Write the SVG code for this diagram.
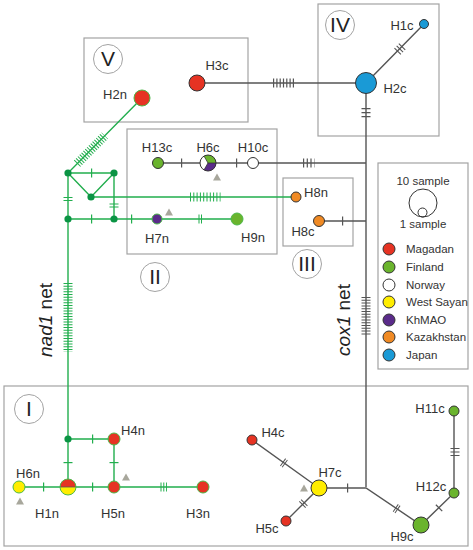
<svg xmlns="http://www.w3.org/2000/svg" width="473" height="550" viewBox="0 0 473 550">
<style>
.box{fill:none;stroke:#a3a3a3;stroke-width:1.2}
.rc{fill:#fff;stroke:#a3a3a3;stroke-width:1}
.rn{font-family:"Liberation Sans",Arial,sans-serif;font-size:21px;fill:#222;text-anchor:middle}
.lb{font-family:"Liberation Sans",Arial,sans-serif;font-size:13px;fill:#333;text-anchor:middle}
.lg{font-family:"Liberation Sans",Arial,sans-serif;font-size:11.5px;fill:#333}
.net{font-family:"Liberation Sans",Arial,sans-serif;font-size:19px;fill:#222;text-anchor:middle}
.cl{fill:none;stroke:#555;stroke-width:1.4}
.gl{fill:none;stroke:#22ae4e;stroke-width:1.4}
.ct{fill:none;stroke:#555;stroke-width:9}
.gt{fill:none;stroke:#22ae4e;stroke-width:9}
.cn{stroke:#333;stroke-width:1}
.gn{stroke:#4cb848;stroke-width:1}
.jn{fill:#0b9444}
.tri{fill:#a8a79c}
.red{fill:#e63323}.grn{fill:#6ab42d}.wht{fill:#fff}.yel{fill:#ffed00}.pur{fill:#5a2b8a}.org{fill:#f08a24}.blu{fill:#1a9ad6}
</style>
<!-- boxes -->
<rect class="box" x="84" y="38" width="164" height="84"/>
<rect class="box" x="318" y="4" width="121" height="132"/>
<rect class="box" x="127" y="129" width="150" height="125"/>
<rect class="box" x="283" y="178" width="70" height="68"/>
<rect class="box" x="4" y="386" width="464" height="160"/>
<rect class="box" x="378" y="163" width="90" height="206"/>
<!-- roman numerals -->
<g id="rI"><circle class="rc" cx="29" cy="409" r="14.5"/><text class="rn" x="29" y="416">I</text></g>
<g id="rII"><circle class="rc" cx="155" cy="277" r="14.5"/><text class="rn" x="155" y="284">II</text></g>
<g id="rIII"><circle class="rc" cx="307" cy="264" r="14.5"/><text class="rn" x="307" y="271">III</text></g>
<g id="rIV"><circle class="rc" cx="340" cy="25" r="14.5"/><text class="rn" x="340" y="32">IV</text></g>
<g id="rV"><circle class="rc" cx="108" cy="59" r="14.5"/><text class="rn" x="108" y="66">V</text></g>
<!-- connectors -->
<g id="connectors">
 <!-- cox1 -->
 <path class="cl" d="M197 83H366L424 24M366 83V487M158 163H366M319 221H366M252 440L319 488L286 521M319 488H366L421 525L454 493V411"/>
 <path class="ct" d="M273 83H294" stroke-dasharray="1.2 2.1"/>
 <path class="ct" d="M397.3 51.6L402.8 46" stroke-dasharray="1.1 2"/>
 <path class="ct" d="M366 108V117.5" stroke-dasharray="1.2 2.8"/>
 <path class="ct" d="M303 163H314.5" stroke-dasharray="1.2 2.5"/>
 <path class="ct" d="M366 297V336" stroke-dasharray="1 1.8"/>
 <path class="ct" d="M342 221h1.2"/>
 <path class="ct" d="M181 163h1.2"/>
 <path class="ct" d="M236 163h1.2"/>
 <path class="ct" d="M347 488h1.2"/>
 <path class="ct" d="M282.6 462L285.8 464.3" stroke-dasharray="1 1.2"/>
 <path class="ct" d="M304.6 502.4L302.1 504.9" stroke-dasharray="1 1.5"/>
 <path class="ct" d="M395.3 507.8L398.6 510.1" stroke-dasharray="1 1.2"/>
 <path class="ct" d="M438.6 508.4L439.5 507.5"/>
 <path class="ct" d="M455 448V456" stroke-dasharray="1.1 2.4"/>
 <!-- nad1 -->
 <path class="gl" d="M142 98L68 173H114V219M68 173L91 197L114 173M91 197H296M68 173V487M68 219H237M68 439H114V487M19 487H203"/>
 <path class="gt" d="M77.1 163.7L104.8 135.7" stroke-dasharray="1 1.6"/>
 <path class="gt" d="M91 173h1.2"/>
 <path class="gt" d="M68 197V201" stroke-dasharray="1 2"/>
 <path class="gt" d="M114 203.5V207.5" stroke-dasharray="1 2"/>
 <path class="gt" d="M190 197H220.5" stroke-dasharray="1 2.3"/>
 <path class="gt" d="M91 219h1.2"/>
 <path class="gt" d="M131 219h1.2"/>
 <path class="gt" d="M198.5 219H202" stroke-dasharray="1 1.5"/>
 <path class="gt" d="M68 283V352" stroke-dasharray="1 1.75"/>
 <path class="gt" d="M92 439h1.2"/>
 <path class="gt" d="M68 462v1.2"/>
 <path class="gt" d="M114 462v1.2"/>
 <path class="gt" d="M43 487h1.2"/>
 <path class="gt" d="M92 487h1.2"/>
 <path class="gt" d="M160.5 487H167" stroke-dasharray="1 1.8"/>
</g>
<!-- junction nodes -->
<g id="junctions">
 <circle class="jn" cx="68" cy="173" r="3.6"/>
 <circle class="jn" cx="114" cy="173" r="3.6"/>
 <circle class="jn" cx="91" cy="197" r="3.6"/>
 <circle class="jn" cx="68" cy="219" r="3.6"/>
 <circle class="jn" cx="114" cy="219" r="3.6"/>
 <circle class="jn" cx="68" cy="439" r="3.6"/>
</g>
<!-- cox1 nodes -->
<g id="H3c"><circle class="red cn" cx="197" cy="83" r="8"/><text class="lb" x="217" y="70">H3c</text></g>
<g id="H2c"><circle class="blu cn" cx="366" cy="83" r="10.5"/><text class="lb" x="395" y="93">H2c</text></g>
<g id="H1c"><circle class="blu cn" cx="424" cy="24" r="4.5"/><text class="lb" x="402" y="30">H1c</text></g>
<g id="H13c"><circle class="grn cn" cx="158" cy="163" r="5.5"/><text class="lb" x="157" y="152">H13c</text></g>
<g id="H6c">
 <path class="wht" d="M208 163L204 156.07A8 8 0 0 0 204 169.93Z"/>
 <path class="grn" d="M208 163L216 163A8 8 0 0 0 204 156.07Z"/>
 <path class="pur" d="M208 163L204 169.93A8 8 0 0 0 216 163Z"/>
 <path d="M216 163H208L204 156.07M208 163L204 169.93" stroke="#333" stroke-width="0.8" fill="none"/>
 <circle cx="208" cy="163" r="8" fill="none" stroke="#333" stroke-width="1"/>
 <text class="lb" x="208" y="152">H6c</text>
</g>
<g id="H10c"><circle class="wht cn" cx="253" cy="163" r="5.5"/><text class="lb" x="253" y="152">H10c</text></g>
<g id="H8c"><circle class="org cn" cx="319" cy="221" r="5.5"/><text class="lb" x="303" y="236">H8c</text></g>
<g id="H4c"><circle class="red cn" cx="252" cy="440" r="5"/><text class="lb" x="273" y="437">H4c</text></g>
<g id="H7c"><circle class="yel cn" cx="319" cy="488" r="8"/><text class="lb" x="330" y="477">H7c</text></g>
<g id="H5c"><circle class="red cn" cx="286" cy="521" r="5"/><text class="lb" x="267" y="533">H5c</text></g>
<g id="H9c"><circle class="grn cn" cx="421" cy="525" r="8"/><text class="lb" x="402" y="541">H9c</text></g>
<g id="H12c"><circle class="grn cn" cx="454" cy="493" r="5"/><text class="lb" x="431" y="491">H12c</text></g>
<g id="H11c"><circle class="grn cn" cx="454" cy="411" r="5"/><text class="lb" x="430" y="413">H11c</text></g>
<!-- nad1 nodes -->
<g id="H2n"><circle class="red gn" cx="142" cy="98" r="8"/><text class="lb" x="115" y="99">H2n</text></g>
<g id="H7n"><circle class="pur gn" cx="157" cy="219" r="5"/><text class="lb" x="157" y="243">H7n</text></g>
<g id="H9n"><circle class="grn gn" cx="237" cy="219" r="6"/><text class="lb" x="253" y="242">H9n</text></g>
<g id="H8n"><circle class="org cn" cx="296" cy="197" r="5"/><text class="lb" x="316" y="197">H8n</text></g>
<g id="H4n"><circle class="red gn" cx="114" cy="439" r="6"/><text class="lb" x="133" y="435">H4n</text></g>
<g id="H6n"><circle class="yel gn" cx="19" cy="487" r="6"/><text class="lb" x="28" y="478">H6n</text></g>
<g id="H1n">
 <path class="red" d="M60 487A8 8 0 0 1 76 487Z"/>
 <path class="yel" d="M60 487A8 8 0 0 0 76 487Z"/>
 <path d="M60 487H76" stroke="#555" stroke-width="0.8"/>
 <circle cx="68" cy="487" r="8" fill="none" stroke="#4cb848" stroke-width="1"/>
 <text class="lb" x="47" y="518">H1n</text>
</g>
<g id="H5n"><circle class="red gn" cx="114" cy="487" r="6"/><text class="lb" x="113" y="518">H5n</text></g>
<g id="H3n"><circle class="red gn" cx="203" cy="487" r="6"/><text class="lb" x="198" y="518">H3n</text></g>
<!-- triangles -->
<g id="triangles">
 <path class="tri" d="M217 173.5l4 7h-8z"/>
 <path class="tri" d="M169 208.5l4 7h-8z"/>
 <path class="tri" d="M126 473.5l4 7h-8z"/>
 <path class="tri" d="M20 497.5l4 7h-8z"/>
 <path class="tri" d="M304 484.5l4 7h-8z"/>
</g>
<!-- net labels -->
<text class="net" transform="translate(52,320) rotate(-90)"><tspan font-style="italic">nad1</tspan> net</text>
<text class="net" transform="translate(350,320) rotate(-90)"><tspan font-style="italic">cox1</tspan> net</text>
<!-- legend -->
<g id="legend">
 <text class="lg" x="423" y="185" text-anchor="middle">10 sample</text>
 <circle cx="423" cy="203" r="14" fill="none" stroke="#333" stroke-width="1"/>
 <circle cx="422.5" cy="212.5" r="4.5" fill="none" stroke="#333" stroke-width="1"/>
 <text class="lg" x="423" y="228" text-anchor="middle">1 sample</text>
 <circle class="red cn" cx="389" cy="249" r="6"/><text class="lg" x="406" y="253">Magadan</text>
 <circle class="grn cn" cx="389" cy="267" r="6"/><text class="lg" x="406" y="271">Finland</text>
 <circle class="wht cn" cx="389" cy="285" r="6"/><text class="lg" x="406" y="289">Norway</text>
 <circle class="yel cn" cx="389" cy="302" r="6"/><text class="lg" x="406" y="306">West Sayan</text>
 <circle class="pur cn" cx="389" cy="320" r="6"/><text class="lg" x="406" y="324">KhMAO</text>
 <circle class="org cn" cx="389" cy="337" r="6"/><text class="lg" x="406" y="341">Kazakhstan</text>
 <circle class="blu cn" cx="389" cy="355" r="6"/><text class="lg" x="406" y="359">Japan</text>
</g>
</svg>
